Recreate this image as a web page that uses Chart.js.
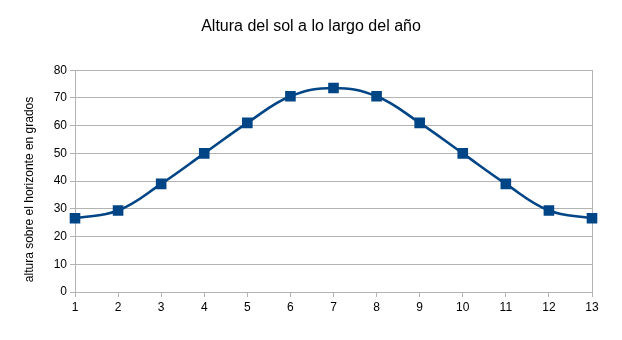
<!DOCTYPE html>
<html>
<head>
<meta charset="utf-8">
<script src="https://cdn.jsdelivr.net/npm/chart.js@4/dist/chart.umd.min.js"></script>
<style>
  html, body { margin: 0; padding: 0; background: #fff; }
</style>
</head>
<body>
<canvas id="sunChart" width="622" height="340"></canvas>
<script>
// Datos
const months = ['1','2','3','4','5','6','7','8','9','10','11','12','13'];
const altitude = [26.6, 29.4, 39, 50, 61, 70.6, 73.6, 70.6, 61, 50, 39, 29.4, 26.6];
const yTicks = { min: 0, max: 80, step: 10 };

const GRID = '#b3b3b3';
const FONT = "'Liberation Sans', Arial, sans-serif";

const ctx = document.getElementById('sunChart').getContext('2d');
new Chart(ctx, {
  type: 'line',
  data: {
    labels: months,
    datasets: [{
      data: altitude,
      borderColor: '#004586',
      backgroundColor: '#004586',
      borderWidth: 2.6,
      tension: 0.4,
      pointStyle: 'rect',
      pointRadius: 7.5,
      pointBorderWidth: 0,
      pointHoverRadius: 7.5
    }]
  },
  options: {
    responsive: false,
    animation: false,
    devicePixelRatio: 1,
    layout: { padding: 0 },
    plugins: {
      legend: { display: false },
      tooltip: { enabled: false },
      title: {
        display: true,
        text: 'Altura del sol a lo largo del año',
        color: '#000',
        font: { family: FONT, size: 16, weight: 'normal' },
        padding: { top: 17, bottom: 34 }
      }
    },
    scales: {
      x: {
        type: 'category',
        offset: false,
        grid: { drawOnChartArea: false, drawTicks: true, tickLength: 5, color: GRID },
        border: { display: true, color: GRID },
        ticks: { color: '#000', font: { family: FONT, size: 12 }, padding: 3, maxRotation: 0, autoSkip: false },
        afterFit: s => { s.height = 48; }
      },
      y: {
        min: yTicks.min,
        max: yTicks.max,
        grid: { color: GRID, tickLength: 5 },
        border: { display: true, color: GRID },
        ticks: { stepSize: yTicks.step, color: '#000', font: { family: FONT, size: 12 }, padding: 3, autoSkip: false },
        title: {
          display: true,
          // espacios finales: bajan el texto hacia el centro del bloque eje+etiquetas
          text: 'altura sobre el horizonte en grados     ',
          color: '#000',
          font: { family: FONT, size: 12 },
          padding: { top: 22, bottom: 0 }
        },
        afterFit: s => { s.width = 75; }
      },
      y2: {
        position: 'right',
        min: yTicks.min,
        max: yTicks.max,
        grid: { display: false },
        border: { display: true, color: GRID },
        ticks: { display: false },
        afterFit: s => { s.width = 30; }
      }
    }
  }
});
</script>
</body>
</html>
